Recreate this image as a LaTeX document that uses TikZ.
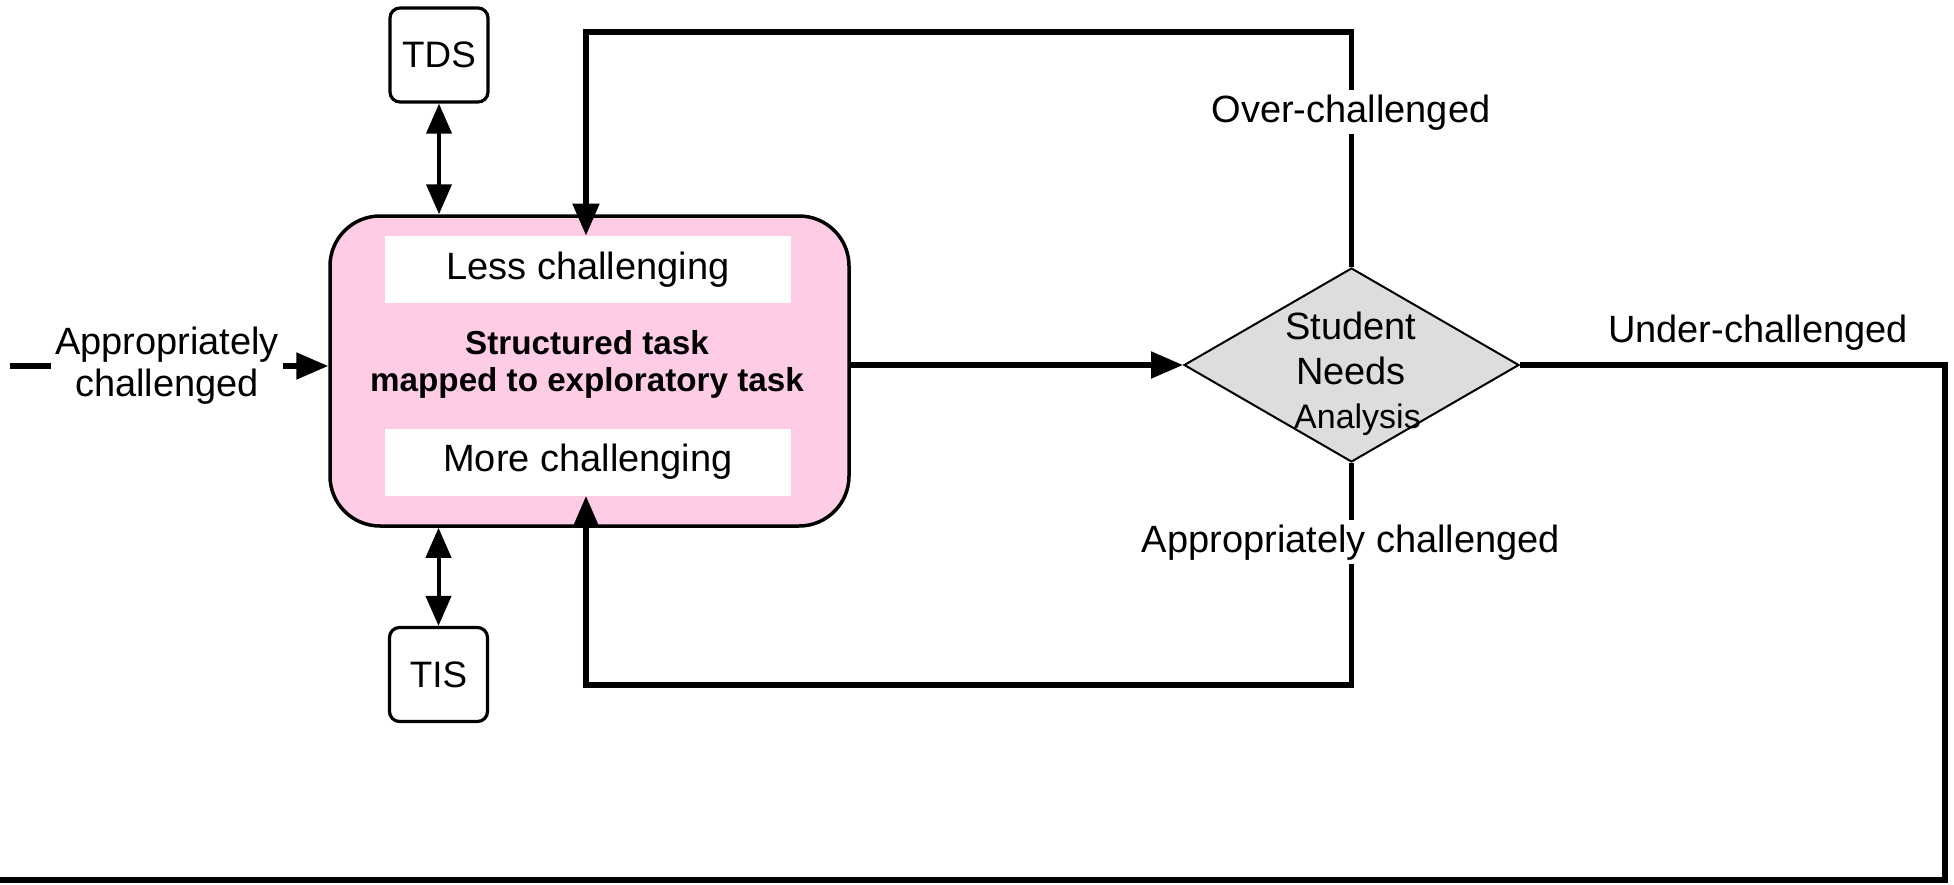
\documentclass[tikz,border=0pt]{standalone}
\usepackage{fontspec}
\setmainfont{Liberation Sans}
\usetikzlibrary{arrows.meta,shapes.geometric}
\definecolor{taskpink}{HTML}{FFCCE6}
\definecolor{diagray}{HTML}{DDDDDD}
\begin{document}
\begin{tikzpicture}[x=0.5pt,y=-0.5pt,
  conn/.style={line width=2.6pt},
  tip/.style={-{Triangle[length=16pt,width=13pt]}},
  dbl/.style={{Triangle[length=15pt,width=12.5pt]}-{Triangle[length=15pt,width=12.5pt]}, line width=2pt},
  lab/.style={font=\fontsize{19}{21}\selectfont, inner sep=2pt},
  sidebox/.style={draw, line width=1.6pt, rounded corners=5pt, minimum width=49pt, minimum height=47pt, inner sep=0pt, font=\fontsize{18.4}{20}\selectfont},
  level/.style={fill=white, minimum width=203pt, minimum height=33.5pt, inner sep=0pt, font=\fontsize{19}{21}\selectfont},
]
\useasboundingbox (0,0) rectangle (1954,884);

% task box with its two levels
\node[draw, line width=1.75pt, fill=taskpink, rounded corners=25pt,
      minimum width=259.5pt, minimum height=155pt, inner sep=0pt] (box) at (589.5,371) {};
\node[level] (less) at (588,269.5) {Less challenging};
\node[level] (more) at (588,462) {More challenging};
\node[font=\bfseries\fontsize{16.6}{18.5}\selectfont, align=center] (task) at (587,364)
  {Structured task\\mapped to exploratory task};

% side boxes
\node[sidebox] (tds) at (439,55) {TDS};
\node[sidebox] (tis) at (438.5,674.5) {TIS};
\draw[dbl] (tds.south) -- (tds.south |- box.north);
\draw[dbl] (tis.north) -- (tis.north |- box.south);

% decision
\node[diamond, draw, line width=1pt, fill=diagray, minimum width=167.5pt,
      minimum height=97pt, inner sep=0pt] (dia) at (1351.5,365) {};
\node[font=\fontsize{19}{22.5}\selectfont, align=center] (dtext) at (1351,348.5) {Student\\Needs};
\node[font=\fontsize{17}{19}\selectfont, anchor=base] (dtext2) at (1357.5,428) {Analysis};

% connectors
\coordinate (tl) at (586,32);
\coordinate (bl) at (586,685);
\coordinate (rc) at (1945,880);
\coordinate (endl) at (0,880);
\coordinate (lin) at (10,366);

\draw[conn,tip] (box.east |- dia.west) -- (dia.west);
\draw[conn,tip] (dia.north) |- (tl) -- (tl |- less.north);
\draw[conn,tip] (dia.south) |- (bl) -- (bl |- more.south);
\draw[conn] (dia.east) -| (rc) -- (endl);

% labels
\node[lab, fill=white, anchor=base] (over) at (1351,122) {Over-challenged};
\node[lab, fill=white, anchor=base] (appr) at (1351,552) {Appropriately challenged};
\node[lab, anchor=base] (under) at (1758,342) {Under-challenged};
\node[lab, align=center] (alab) at (167,366) {Appropriately\\challenged};
\draw[conn] (lin) -- (alab.west);
\draw[conn,tip] (alab.east) -- (box.west |- alab.east);
\end{tikzpicture}
\end{document}
